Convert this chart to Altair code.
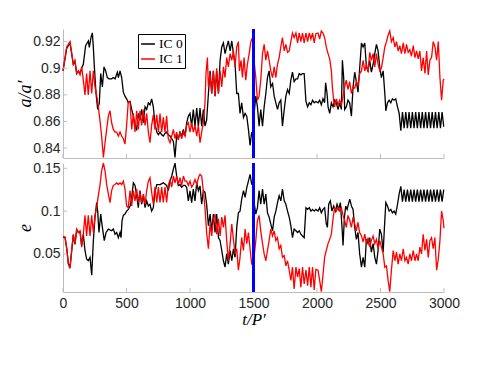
import altair as alt
import pandas as pd

series_names = ["IC 0", "IC 1"]
series_colors = ["#000000", "#ff0000"]
x_ticks = [0, 500, 1000, 1500, 2000, 2500, 3000]
a_ticks = [0.84, 0.86, 0.88, 0.9, 0.92]
e_ticks = [0.05, 0.1, 0.15]
t_marker = 1500

a_ic0 = [(0, 0.898), (29, 0.915), (55, 0.919), (68, 0.911), (81, 0.903), (94, 0.905), (108, 0.896), (121, 0.898),
         (134, 0.896), (147, 0.900), (160, 0.903), (178, 0.917), (200, 0.9205), (207, 0.9156), (220, 0.923),
         (231, 0.9266), (239, 0.9156), (247, 0.901), (260, 0.881), (273, 0.869), (286, 0.874), (297, 0.896),
         (310, 0.886), (323, 0.901), (336, 0.898), (349, 0.893), (362, 0.892), (383, 0.892), (396, 0.893),
         (410, 0.892), (428, 0.897), (436, 0.893), (449, 0.898), (462, 0.893), (475, 0.882), (488, 0.879),
         (501, 0.877), (514, 0.874), (528, 0.875), (541, 0.869), (554, 0.864), (567, 0.8565), (580, 0.854),
         (593, 0.866), (606, 0.861), (619, 0.869), (633, 0.859), (646, 0.871), (659, 0.869), (672, 0.874),
         (685, 0.8725), (698, 0.877), (711, 0.871), (724, 0.859), (738, 0.852), (751, 0.850), (764, 0.852),
         (777, 0.850), (790, 0.849), (803, 0.851), (816, 0.852), (829, 0.850), (843, 0.849), (856, 0.847),
         (869, 0.845), (882, 0.833), (895, 0.849), (908, 0.847), (921, 0.852), (934, 0.849), (948, 0.854),
         (961, 0.849), (974, 0.859), (987, 0.864), (1000, 0.866), (1013, 0.8565), (1026, 0.869), (1039, 0.8565),
         (1053, 0.870), (1066, 0.8565), (1079, 0.870), (1092, 0.8565), (1105, 0.869), (1118, 0.8565),
         (1131, 0.861), (1145, 0.881), (1158, 0.898), (1171, 0.881), (1184, 0.898), (1197, 0.879), (1210, 0.898),
         (1224, 0.881), (1237, 0.906), (1250, 0.916), (1263, 0.919), (1276, 0.911), (1289, 0.916), (1302, 0.9205),
         (1316, 0.913), (1329, 0.9205), (1342, 0.911), (1355, 0.903), (1368, 0.881), (1381, 0.881), (1394, 0.866),
         (1407, 0.874), (1421, 0.863), (1434, 0.866), (1447, 0.864), (1460, 0.854), (1473, 0.842), (1486, 0.852),
         (1494, 0.849), (1505, 0.866), (1518, 0.879), (1531, 0.871), (1544, 0.8565), (1557, 0.869), (1571, 0.8565),
         (1584, 0.871), (1597, 0.881), (1610, 0.893), (1623, 0.898), (1636, 0.886), (1650, 0.8885), (1663, 0.879),
         (1676, 0.874), (1689, 0.869), (1702, 0.874), (1715, 0.876), (1728, 0.8565), (1742, 0.869), (1755, 0.879),
         (1768, 0.884), (1781, 0.881), (1794, 0.891), (1807, 0.897), (1820, 0.890), (1834, 0.892), (1847, 0.892),
         (1860, 0.896), (1873, 0.895), (1886, 0.896), (1899, 0.896), (1913, 0.875), (1926, 0.871), (1939, 0.874),
         (1952, 0.8725), (1965, 0.876), (1978, 0.874), (1991, 0.875), (2008, 0.874), (2021, 0.876), (2034, 0.8725),
         (2047, 0.877), (2060, 0.874), (2068, 0.889), (2079, 0.881), (2087, 0.871), (2100, 0.866), (2113, 0.874),
         (2126, 0.871), (2139, 0.876), (2152, 0.874), (2166, 0.869), (2179, 0.874), (2192, 0.869), (2200, 0.906),
         (2210, 0.893), (2218, 0.869), (2231, 0.871), (2244, 0.876), (2257, 0.874), (2271, 0.864), (2284, 0.886),
         (2297, 0.897), (2310, 0.890), (2323, 0.882), (2336, 0.900), (2350, 0.919), (2363, 0.916), (2376, 0.919),
         (2389, 0.901), (2402, 0.898), (2415, 0.906), (2428, 0.897), (2442, 0.903), (2455, 0.911), (2468, 0.918),
         (2481, 0.913), (2494, 0.901), (2507, 0.893), (2521, 0.898), (2534, 0.881), (2542, 0.868), (2555, 0.874),
         (2568, 0.876), (2581, 0.874), (2594, 0.877), (2607, 0.876), (2620, 0.877), (2634, 0.871), (2647, 0.866),
         (2660, 0.853), (2673, 0.867), (2686, 0.855), (2699, 0.867), (2712, 0.855), (2725, 0.867), (2738, 0.855),
         (2751, 0.867), (2764, 0.855), (2777, 0.867), (2790, 0.855), (2803, 0.867), (2816, 0.855), (2829, 0.867),
         (2842, 0.855), (2855, 0.867), (2868, 0.855), (2881, 0.867), (2894, 0.855), (2907, 0.867), (2920, 0.855),
         (2933, 0.867), (2946, 0.855), (2959, 0.867), (2972, 0.855), (2985, 0.867), (2998, 0.856)]

a_ic1 = [(0, 0.898), (29, 0.916), (55, 0.920), (68, 0.912), (81, 0.903), (94, 0.906), (108, 0.896), (121, 0.898),
         (134, 0.895), (147, 0.901), (160, 0.891), (173, 0.880), (186, 0.896), (199, 0.880), (213, 0.898),
         (226, 0.881), (239, 0.898), (252, 0.886), (265, 0.880), (278, 0.871), (291, 0.861), (304, 0.849),
         (318, 0.833), (331, 0.844), (344, 0.854), (357, 0.864), (370, 0.868), (383, 0.859), (396, 0.854),
         (409, 0.852), (423, 0.852), (436, 0.849), (449, 0.852), (462, 0.849), (475, 0.847), (488, 0.843),
         (501, 0.857), (514, 0.875), (528, 0.874), (541, 0.854), (554, 0.866), (567, 0.852), (580, 0.868),
         (593, 0.854), (606, 0.868), (619, 0.857), (633, 0.869), (646, 0.857), (659, 0.866), (672, 0.852),
         (685, 0.844), (698, 0.857), (711, 0.865), (724, 0.854), (738, 0.865), (751, 0.852), (764, 0.866),
         (777, 0.852), (790, 0.863), (803, 0.852), (816, 0.864), (829, 0.847), (843, 0.844), (856, 0.849),
         (869, 0.854), (882, 0.847), (895, 0.852), (908, 0.846), (921, 0.852), (934, 0.847), (948, 0.852),
         (961, 0.849), (974, 0.857), (987, 0.859), (1000, 0.852), (1013, 0.859), (1026, 0.852), (1039, 0.857),
         (1053, 0.849), (1066, 0.857), (1079, 0.844), (1092, 0.852), (1105, 0.859), (1118, 0.874), (1126, 0.896),
         (1137, 0.908), (1145, 0.886), (1158, 0.896), (1171, 0.881), (1184, 0.898), (1197, 0.879), (1210, 0.900),
         (1224, 0.881), (1237, 0.898), (1250, 0.886), (1263, 0.901), (1276, 0.893), (1289, 0.908), (1302, 0.901),
         (1316, 0.911), (1329, 0.906), (1342, 0.913), (1355, 0.901), (1368, 0.916), (1381, 0.920), (1389, 0.898),
         (1402, 0.906), (1413, 0.893), (1426, 0.908), (1439, 0.891), (1452, 0.903), (1466, 0.911), (1479, 0.920),
         (1492, 0.923), (1505, 0.905), (1518, 0.893), (1531, 0.876), (1544, 0.879), (1557, 0.891), (1571, 0.911),
         (1584, 0.918), (1597, 0.906), (1610, 0.913), (1623, 0.906), (1636, 0.898), (1650, 0.893), (1663, 0.901),
         (1676, 0.893), (1689, 0.903), (1702, 0.908), (1715, 0.916), (1728, 0.923), (1742, 0.913), (1755, 0.918),
         (1768, 0.912), (1781, 0.913), (1794, 0.920), (1807, 0.9265), (1820, 0.923), (1834, 0.9265), (1847, 0.919),
         (1860, 0.9265), (1873, 0.920), (1886, 0.9265), (1899, 0.919), (1913, 0.9265), (1926, 0.920),
         (1939, 0.9265), (1952, 0.922), (1965, 0.9265), (1978, 0.919), (1991, 0.926), (2008, 0.9265),
         (2021, 0.922), (2034, 0.928), (2047, 0.9265), (2060, 0.923), (2073, 0.916), (2087, 0.911), (2100, 0.907),
         (2113, 0.898), (2121, 0.886), (2131, 0.876), (2139, 0.871), (2152, 0.877), (2166, 0.8725), (2179, 0.876),
         (2192, 0.8725), (2205, 0.879), (2218, 0.886), (2231, 0.891), (2244, 0.884), (2257, 0.890), (2271, 0.881),
         (2284, 0.886), (2297, 0.885), (2310, 0.890), (2323, 0.887), (2336, 0.896), (2350, 0.898), (2363, 0.906),
         (2376, 0.898), (2389, 0.903), (2402, 0.897), (2415, 0.912), (2428, 0.906), (2442, 0.911), (2455, 0.901),
         (2468, 0.911), (2481, 0.903), (2494, 0.898), (2507, 0.900), (2521, 0.908), (2534, 0.916), (2547, 0.920),
         (2560, 0.925), (2573, 0.928), (2586, 0.920), (2600, 0.923), (2613, 0.916), (2626, 0.920), (2639, 0.913),
         (2652, 0.917), (2665, 0.911), (2679, 0.919), (2692, 0.911), (2705, 0.918), (2718, 0.912), (2731, 0.914),
         (2744, 0.909), (2758, 0.917), (2771, 0.908), (2784, 0.913), (2797, 0.907), (2810, 0.913), (2823, 0.898),
         (2836, 0.908), (2850, 0.896), (2863, 0.913), (2876, 0.895), (2889, 0.906), (2902, 0.908), (2915, 0.920),
         (2929, 0.916), (2942, 0.906), (2955, 0.920), (2968, 0.893), (2981, 0.876), (2994, 0.891), (3000, 0.892)]

e_ic0 = [(0, 0.070), (16, 0.069), (29, 0.057), (42, 0.039), (55, 0.034), (68, 0.053), (81, 0.072), (94, 0.061),
         (108, 0.078), (121, 0.075), (134, 0.076), (147, 0.060), (160, 0.073), (173, 0.054), (186, 0.044),
         (199, 0.042), (213, 0.046), (226, 0.025), (239, 0.0655), (252, 0.093), (265, 0.110), (273, 0.100),
         (283, 0.075), (297, 0.0965), (310, 0.081), (325, 0.0655), (339, 0.075), (357, 0.079), (383, 0.077),
         (396, 0.079), (410, 0.073), (423, 0.075), (436, 0.069), (449, 0.075), (457, 0.069), (465, 0.089),
         (475, 0.095), (488, 0.0965), (501, 0.100), (514, 0.102), (528, 0.106), (541, 0.116), (554, 0.133),
         (567, 0.130), (580, 0.118), (593, 0.104), (606, 0.124), (619, 0.108), (633, 0.118), (646, 0.104),
         (659, 0.112), (672, 0.106), (685, 0.108), (698, 0.100), (711, 0.104), (724, 0.122), (738, 0.131),
         (751, 0.131), (764, 0.131), (790, 0.133), (816, 0.130), (829, 0.124), (843, 0.135), (856, 0.141),
         (869, 0.149), (882, 0.156), (895, 0.141), (908, 0.130), (921, 0.131), (934, 0.128), (948, 0.130),
         (961, 0.130), (974, 0.1275), (987, 0.112), (1000, 0.1236), (1013, 0.110), (1026, 0.1256), (1039, 0.112),
         (1053, 0.133), (1066, 0.124), (1079, 0.1295), (1092, 0.108), (1105, 0.124), (1118, 0.122), (1131, 0.108),
         (1145, 0.083), (1158, 0.0965), (1171, 0.077), (1184, 0.0965), (1197, 0.075), (1210, 0.0965), (1224, 0.069),
         (1237, 0.0655), (1250, 0.054), (1263, 0.042), (1276, 0.0345), (1289, 0.050), (1302, 0.038), (1316, 0.054),
         (1329, 0.042), (1342, 0.056), (1355, 0.046), (1368, 0.081), (1381, 0.098), (1394, 0.100), (1407, 0.114),
         (1421, 0.124), (1434, 0.116), (1447, 0.1275), (1460, 0.135), (1473, 0.143), (1486, 0.131), (1494, 0.135),
         (1505, 0.110), (1518, 0.0965), (1531, 0.104), (1544, 0.124), (1557, 0.108), (1571, 0.1256), (1584, 0.108),
         (1597, 0.120), (1610, 0.098), (1623, 0.093), (1636, 0.085), (1650, 0.077), (1663, 0.093), (1676, 0.100),
         (1689, 0.110), (1702, 0.118), (1715, 0.112), (1728, 0.1256), (1742, 0.112), (1755, 0.108), (1768, 0.100),
         (1781, 0.093), (1794, 0.083), (1807, 0.069), (1820, 0.079), (1834, 0.077), (1847, 0.075), (1860, 0.077),
         (1873, 0.073), (1886, 0.071), (1899, 0.069), (1913, 0.104), (1926, 0.102), (1939, 0.104), (1952, 0.100),
         (1965, 0.102), (1978, 0.100), (1991, 0.102), (2008, 0.100), (2021, 0.104), (2034, 0.098), (2047, 0.102),
         (2060, 0.104), (2073, 0.085), (2082, 0.081), (2092, 0.108), (2105, 0.112), (2118, 0.100), (2131, 0.106),
         (2145, 0.100), (2158, 0.108), (2171, 0.102), (2184, 0.110), (2197, 0.081), (2205, 0.060), (2216, 0.093),
         (2226, 0.106), (2237, 0.102), (2247, 0.108), (2258, 0.114), (2271, 0.106), (2284, 0.102), (2297, 0.081),
         (2310, 0.067), (2323, 0.075), (2336, 0.050), (2350, 0.0345), (2363, 0.046), (2376, 0.0345), (2389, 0.067),
         (2402, 0.062), (2415, 0.069), (2428, 0.052), (2442, 0.062), (2455, 0.046), (2468, 0.038), (2481, 0.054),
         (2494, 0.079), (2507, 0.073), (2521, 0.052), (2531, 0.081), (2542, 0.110), (2555, 0.106), (2568, 0.100),
         (2581, 0.102), (2594, 0.098), (2607, 0.100), (2620, 0.0965), (2634, 0.108), (2647, 0.120),
         (2660, 0.129), (2673, 0.111), (2686, 0.125), (2699, 0.111), (2712, 0.125), (2725, 0.111), (2738, 0.125),
         (2751, 0.111), (2764, 0.125), (2777, 0.111), (2790, 0.125), (2803, 0.111), (2816, 0.125), (2829, 0.111),
         (2842, 0.125), (2855, 0.111), (2868, 0.125), (2881, 0.111), (2894, 0.125), (2907, 0.111), (2920, 0.125),
         (2933, 0.111), (2946, 0.125), (2959, 0.111), (2972, 0.125), (2985, 0.111), (2998, 0.125)]

e_ic1 = [(0, 0.070), (16, 0.070), (29, 0.056), (42, 0.038), (55, 0.033), (68, 0.054), (81, 0.073), (94, 0.062),
         (108, 0.079), (121, 0.075), (134, 0.077), (147, 0.058), (160, 0.073), (173, 0.095), (186, 0.071),
         (199, 0.095), (213, 0.071), (226, 0.095), (239, 0.075), (252, 0.095), (265, 0.104), (278, 0.118),
         (291, 0.130), (304, 0.147), (318, 0.156), (331, 0.147), (344, 0.131), (357, 0.120), (370, 0.110),
         (383, 0.124), (396, 0.130), (410, 0.131), (423, 0.133), (436, 0.131), (449, 0.133), (462, 0.131),
         (475, 0.135), (488, 0.126), (501, 0.106), (514, 0.104), (528, 0.124), (541, 0.106), (554, 0.124),
         (567, 0.112), (580, 0.126), (593, 0.110), (606, 0.122), (619, 0.110), (633, 0.120), (646, 0.108),
         (659, 0.124), (672, 0.135), (685, 0.139), (698, 0.122), (711, 0.108), (724, 0.128), (738, 0.110),
         (751, 0.128), (764, 0.110), (777, 0.128), (790, 0.110), (803, 0.128), (816, 0.110), (829, 0.130),
         (843, 0.137), (856, 0.128), (869, 0.141), (882, 0.133), (895, 0.141), (908, 0.131), (921, 0.139),
         (934, 0.130), (948, 0.141), (961, 0.135), (974, 0.135), (987, 0.130), (1000, 0.135), (1013, 0.128),
         (1026, 0.131), (1039, 0.137), (1053, 0.131), (1066, 0.139), (1079, 0.143), (1092, 0.141), (1105, 0.124),
         (1118, 0.104), (1131, 0.075), (1145, 0.056), (1158, 0.085), (1171, 0.071), (1184, 0.091), (1197, 0.0965),
         (1210, 0.073), (1224, 0.091), (1237, 0.071), (1250, 0.093), (1263, 0.081), (1276, 0.095), (1289, 0.0655),
         (1302, 0.042), (1316, 0.062), (1329, 0.085), (1342, 0.067), (1355, 0.050), (1368, 0.056), (1381, 0.031),
         (1394, 0.046), (1407, 0.069), (1421, 0.054), (1434, 0.079), (1447, 0.062), (1460, 0.075), (1473, 0.056),
         (1486, 0.038), (1499, 0.038), (1518, 0.0655), (1531, 0.089), (1544, 0.095), (1557, 0.077), (1571, 0.062),
         (1584, 0.050), (1597, 0.042), (1610, 0.054), (1623, 0.0655), (1636, 0.079), (1650, 0.071), (1663, 0.077),
         (1676, 0.0655), (1689, 0.069), (1702, 0.056), (1715, 0.060), (1728, 0.046), (1742, 0.048), (1755, 0.036),
         (1768, 0.042), (1781, 0.031), (1794, 0.019), (1807, 0.0345), (1820, 0.009), (1834, 0.0345), (1847, 0.023),
         (1860, 0.033), (1873, 0.011), (1886, 0.0345), (1899, 0.015), (1913, 0.031), (1926, 0.013), (1939, 0.0345),
         (1952, 0.011), (1965, 0.0345), (1978, 0.008), (1991, 0.032), (2008, 0.031), (2021, 0.019), (2034, 0.006),
         (2047, 0.025), (2060, 0.046), (2073, 0.054), (2087, 0.062), (2100, 0.067), (2113, 0.073), (2126, 0.091),
         (2139, 0.104), (2152, 0.100), (2166, 0.104), (2179, 0.100), (2192, 0.104), (2205, 0.095), (2218, 0.089),
         (2231, 0.081), (2244, 0.095), (2258, 0.089), (2271, 0.081), (2284, 0.093), (2297, 0.085), (2310, 0.077),
         (2323, 0.087), (2336, 0.075), (2350, 0.071), (2363, 0.064), (2376, 0.073), (2389, 0.062), (2402, 0.069),
         (2415, 0.058), (2428, 0.0655), (2442, 0.071), (2455, 0.062), (2468, 0.067), (2481, 0.056), (2494, 0.0655),
         (2507, 0.058), (2521, 0.050), (2534, 0.0345), (2547, 0.036), (2560, 0.019), (2573, 0.006), (2586, 0.031),
         (2600, 0.054), (2613, 0.042), (2626, 0.052), (2639, 0.038), (2652, 0.050), (2665, 0.042), (2679, 0.056),
         (2692, 0.042), (2705, 0.046), (2718, 0.038), (2731, 0.050), (2744, 0.042), (2758, 0.054), (2771, 0.042),
         (2784, 0.050), (2797, 0.042), (2810, 0.058), (2823, 0.050), (2836, 0.073), (2850, 0.054), (2863, 0.067),
         (2876, 0.046), (2889, 0.0655), (2902, 0.069), (2915, 0.056), (2928, 0.069), (2942, 0.031), (2955, 0.044),
         (2968, 0.0655), (2981, 0.100), (2994, 0.089), (3000, 0.080)]

W, H = 381, 129
AXIS_GRAY = "#bdbdbd"
LABEL_COLOR = "#262626"
TITLE_FONT = "Liberation Serif"


def long_frame(s0, s1):
    rows = [{"t": t, "v": v, "series": series_names[0]} for t, v in s0]
    rows += [{"t": t, "v": v, "series": series_names[1]} for t, v in s1]
    return pd.DataFrame(rows)


xs = alt.Scale(domain=[0, 3000], nice=False, zero=False)


def panel(df, ydom, yticks, ytitle, bottom, legend):
    ys = alt.Scale(domain=ydom, nice=False, zero=False)
    if bottom:
        xaxis = alt.Axis(values=x_ticks, format="d", ticks=False, grid=False, labelPadding=4,
                         labelFlush=False,
                         title="t/P′", titleFont=TITLE_FONT, titleFontStyle="italic",
                         titleFontWeight="normal", titleFontSize=17, titleColor="black", titlePadding=1,
                         domainColor=AXIS_GRAY)
    else:
        xaxis = alt.Axis(values=x_ticks, labels=False, ticks=False, grid=False, title=None,
                         domainColor=AXIS_GRAY)
    yaxis = alt.Axis(values=yticks, format="~g", ticks=False, grid=False, labelPadding=3,
                     labelFlush=False,
                     title=ytitle, titleFont=TITLE_FONT, titleFontStyle="italic",
                     titleFontWeight="normal", titleFontSize=18, titleColor="black", titlePadding=-2,
                     domainColor=AXIS_GRAY)
    if legend:
        leg = alt.Legend(orient="none", legendX=75, legendY=5, title=None, strokeColor="black",
                         fillColor="white", padding=2, symbolType="stroke", symbolSize=190,
                         symbolStrokeWidth=1.5, labelFont=TITLE_FONT, labelFontSize=13.5,
                         labelColor="black", rowPadding=0, labelOffset=3, cornerRadius=0)
    else:
        leg = None
    X = alt.X("t:Q", scale=xs, axis=xaxis)
    Y = alt.Y("v:Q", scale=ys, axis=yaxis)
    lines = alt.Chart(df).mark_line(strokeWidth=1.3).encode(
        x=X, y=Y,
        color=alt.Color("series:N", scale=alt.Scale(domain=series_names, range=series_colors), legend=leg),
    )
    xt = alt.Chart(pd.DataFrame({"t": x_ticks})).mark_rule(color=AXIS_GRAY, strokeWidth=1).encode(
        x=X, y=alt.value(H - 4), y2=alt.value(H))
    yt = alt.Chart(pd.DataFrame({"v": yticks})).mark_rule(color=AXIS_GRAY, strokeWidth=1).encode(
        y=Y, x=alt.value(0), x2=alt.value(4))
    marker = alt.Chart(pd.DataFrame({"t": [t_marker]})).mark_rule(color="#0000ff", strokeWidth=3).encode(
        x=X)
    return alt.layer(lines, xt, yt, marker).properties(width=W, height=H)


top = panel(long_frame(a_ic0, a_ic1), [0.8325, 0.9295], a_ticks, "a/a′", False, True)
bot = panel(long_frame(e_ic0, e_ic1), [0.0055, 0.1562], e_ticks, "e", True, False)

chart = alt.vconcat(top, bot, spacing=0).resolve_scale(color="independent").properties(
    padding={"left": 8, "top": 19, "right": 5, "bottom": 5}
).configure_view(stroke=None).configure_axis(
    labelFont="Liberation Sans", labelFontSize=14, labelColor=LABEL_COLOR
)

chart.save("out.html", embed_options={"renderer": "svg", "actions": False})
